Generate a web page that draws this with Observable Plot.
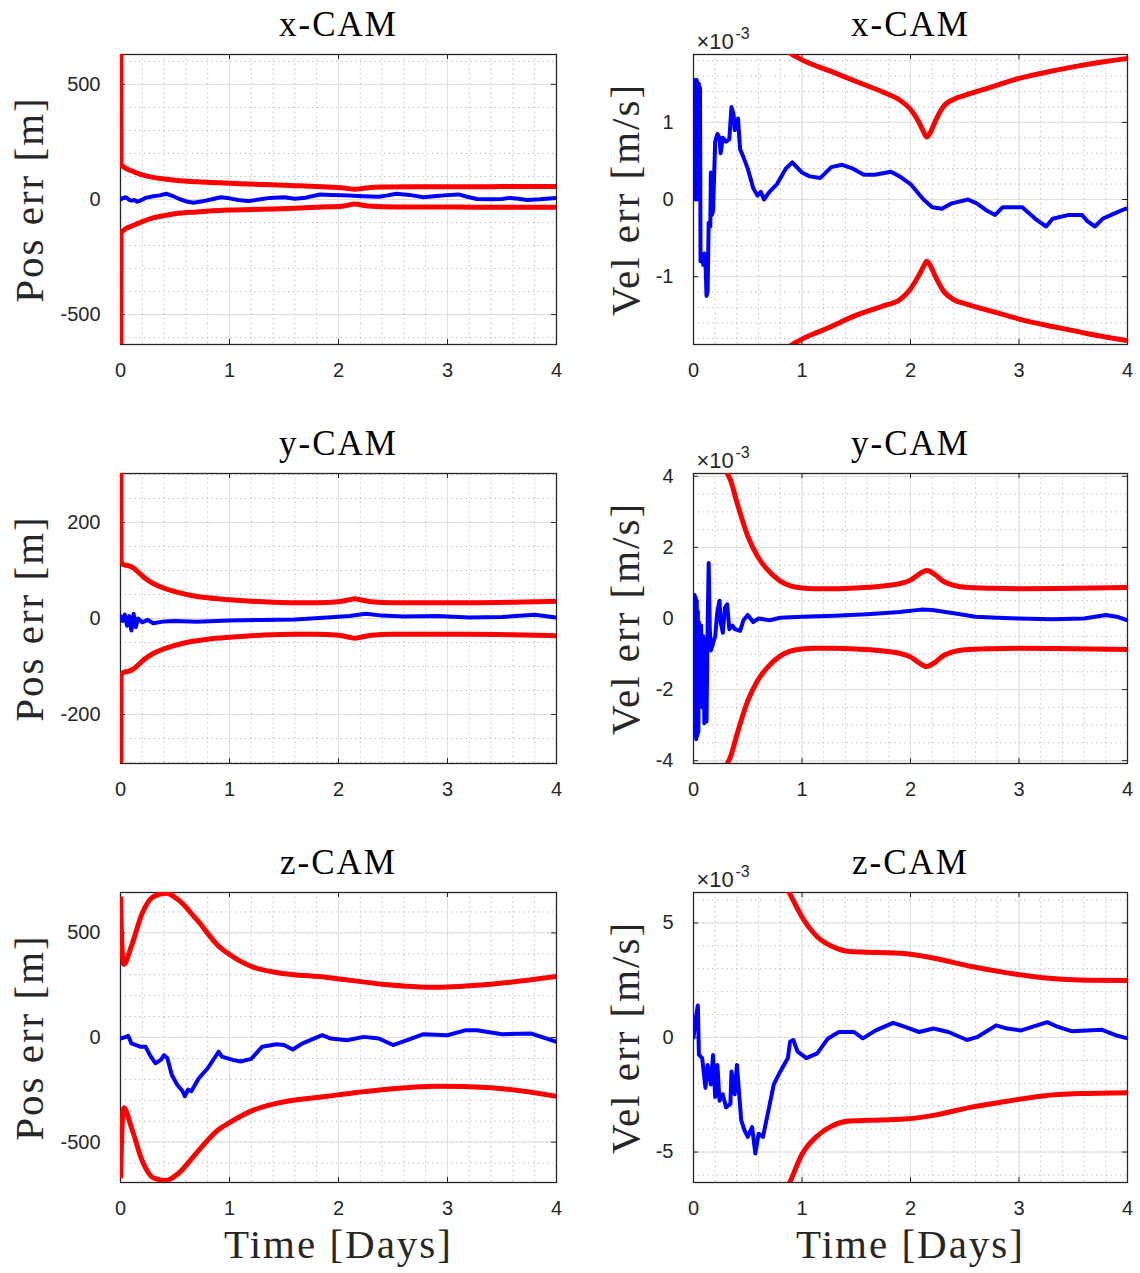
<!DOCTYPE html>
<html>
<head>
<meta charset="utf-8">
<script src="https://cdn.jsdelivr.net/npm/d3@7"></script>
<script src="https://cdn.jsdelivr.net/npm/@observablehq/plot@0.6"></script>
<style>
  html, body { margin: 0; padding: 0; background: #fff; }
  #wrap { position: relative; width: 1140px; height: 1273px; background: #fff; overflow: hidden; }
  #wrap svg { position: absolute; }
  svg g[font-family="Liberation Serif"] { letter-spacing: 2px; }
</style>
</head>
<body>
<div id="wrap"></div>
<script>
// ---------- shared ticks ----------
const xTicks = [0, 1, 2, 3, 4];

// ---------- Panel 1: x-CAM position error [m] ----------
const xPosSigT  = [0, 0.004, 0.02, 0.05, 0.1, 0.15, 0.2, 0.3, 0.4, 0.5, 0.7, 1.0, 1.3, 1.6, 1.9, 2.05, 2.15, 2.25, 2.4, 2.7, 3.0, 3.5, 4.0];
const xPosUpper = [2000, 155, 145, 135, 125, 115, 107, 96, 89, 84, 77, 71, 65, 60, 54, 50, 44, 50, 54, 55, 55, 56, 56];
const xPosLower = [-2000, -150, -138, -126, -116, -106, -96, -80, -70, -62, -54, -46, -42, -38, -32, -28, -20, -27, -31, -33, -33, -34, -34];
const xPosErrT  = [0, 0.02, 0.05, 0.08, 0.1, 0.13, 0.15, 0.19, 0.23, 0.3, 0.36, 0.42, 0.48, 0.55, 0.62, 0.67, 0.75, 0.83, 0.92, 1.0, 1.08, 1.17, 1.27, 1.37, 1.5, 1.6, 1.7, 1.83, 1.93, 2.03, 2.13, 2.23, 2.37, 2.45, 2.53, 2.65, 2.78, 2.9, 3.0, 3.1, 3.18, 3.27, 3.4, 3.5, 3.57, 3.65, 3.73, 3.85, 4.0];
const xPosErr   = [0, 6, 10, -2, -5, -2, -10, -3, 7, 14, 18, 25, 15, 0, -10, -14, -8, 0, 10, 5, -2, -7, 0, 7, 10, 3, 8, 22, 20, 19, 16, 14, 12, 18, 25, 20, 10, 15, 19, 22, 12, 2, 1, 2, 7, 3, -2, 1, 7];

// ---------- Panel 2: x-CAM velocity error [x1e-3 m/s] ----------
const xVelSigT  = [0, 0.3, 0.6, 0.89, 1.0, 1.25, 1.5, 1.75, 1.9, 2.0, 2.07, 2.12, 2.15, 2.18, 2.23, 2.3, 2.4, 2.5, 2.75, 3.0, 3.25, 3.5, 3.75, 4.0];
const xVelUpper = [6, 3.2, 2.35, 1.9, 1.81, 1.67, 1.53, 1.39, 1.29, 1.17, 1.02, 0.88, 0.81, 0.86, 1.02, 1.2, 1.3, 1.35, 1.46, 1.57, 1.65, 1.72, 1.78, 1.83];
const xVelLower = [-6, -3.2, -2.35, -1.9, -1.81, -1.66, -1.5, -1.38, -1.3, -1.16, -1.0, -0.87, -0.8, -0.85, -1.0, -1.18, -1.3, -1.35, -1.45, -1.55, -1.63, -1.7, -1.77, -1.83];
const xVelErrT  = [0, 0.01, 0.015, 0.02, 0.025, 0.03, 0.035, 0.04, 0.045, 0.05, 0.055, 0.06, 0.065, 0.08, 0.09, 0.1, 0.11, 0.12, 0.13, 0.14, 0.155, 0.16, 0.17, 0.18, 0.2, 0.22, 0.24, 0.25, 0.27, 0.3, 0.33, 0.35, 0.37, 0.38, 0.41, 0.43, 0.46, 0.5, 0.55, 0.59, 0.62, 0.65, 0.7, 0.77, 0.85, 0.91, 1.0, 1.07, 1.17, 1.27, 1.37, 1.47, 1.57, 1.67, 1.82, 1.9, 2.0, 2.12, 2.2, 2.29, 2.38, 2.53, 2.61, 2.71, 2.78, 2.85, 2.95, 3.03, 3.15, 3.25, 3.31, 3.46, 3.58, 3.63, 3.7, 3.77, 3.85, 3.98, 4.0];
const xVelErr   = [0, 1.55, 0, 1.55, 0.05, 1.55, 0, 1.5, 0.1, 1.5, 0.2, 1.45, -0.8, -0.75, -0.85, -0.7, -0.8, -1.25, -1.2, -0.3, -0.35, 0.35, -0.2, -0.15, 0.75, 0.85, 0.8, 0.6, 0.8, 0.75, 0.78, 1.2, 1.1, 0.9, 1.05, 0.65, 0.55, 0.4, 0.15, 0.05, 0.1, 0.0, 0.1, 0.2, 0.4, 0.48, 0.35, 0.3, 0.28, 0.42, 0.45, 0.4, 0.32, 0.32, 0.36, 0.3, 0.2, 0.0, -0.1, -0.12, -0.05, 0.0, -0.05, -0.15, -0.2, -0.1, -0.1, -0.1, -0.25, -0.35, -0.25, -0.2, -0.2, -0.28, -0.35, -0.25, -0.2, -0.12, -0.12];

// ---------- Panel 3: y-CAM position error [m] ----------
const yPosSigT  = [0, 0.004, 0.03, 0.07, 0.12, 0.17, 0.22, 0.3, 0.4, 0.5, 0.65, 0.8, 1.0, 1.2, 1.4, 1.6, 1.8, 2.0, 2.1, 2.15, 2.2, 2.3, 2.5, 2.8, 3.2, 3.6, 4.0];
const yPosUpper = [1500, 120, 112, 110, 105, 95, 85, 73, 63, 56, 48, 43, 39, 36, 34, 33, 33, 35, 39, 41, 39, 35, 33, 33, 33, 34, 36];
const yPosLower = [-1500, -120, -112, -110, -105, -95, -85, -73, -63, -56, -48, -43, -39, -36, -34, -33, -33, -35, -39, -41, -39, -35, -33, -33, -33, -34, -36];
const yPosErrT  = [0, 0.02, 0.04, 0.06, 0.08, 0.1, 0.12, 0.14, 0.16, 0.2, 0.25, 0.3, 0.4, 0.5, 0.7, 1.0, 1.3, 1.6, 1.9, 2.1, 2.25, 2.4, 2.6, 2.9, 3.2, 3.5, 3.8, 4.0];
const yPosErr   = [5, -5, 8, -15, 5, -25, 10, -18, 0, -8, -3, -10, -6, -5, -7, -4, -3, -2, 2, 5, 10, 6, 4, 5, 2, 3, 8, 2];

// ---------- Panel 4: y-CAM velocity error [x1e-3 m/s] ----------
const yVelSigT  = [0, 0.1, 0.2, 0.31, 0.34, 0.4, 0.5, 0.59, 0.68, 0.8, 0.9, 1.0, 1.11, 1.3, 1.5, 1.73, 1.9, 2.0, 2.08, 2.15, 2.22, 2.3, 2.4, 2.5, 2.75, 3.0, 3.5, 4.0];
const yVelUpper = [14, 9, 5.8, 4.1, 3.9, 3.27, 2.32, 1.75, 1.38, 1.05, 0.91, 0.86, 0.84, 0.84, 0.86, 0.91, 0.98, 1.08, 1.25, 1.35, 1.25, 1.05, 0.93, 0.88, 0.85, 0.84, 0.85, 0.87];
const yVelLower = [-14, -9, -5.8, -4.1, -3.9, -3.27, -2.32, -1.75, -1.38, -1.05, -0.91, -0.86, -0.84, -0.84, -0.86, -0.91, -0.98, -1.08, -1.25, -1.35, -1.25, -1.05, -0.93, -0.88, -0.85, -0.84, -0.85, -0.87];
const yVelErrT  = [0, 0.01, 0.015, 0.02, 0.025, 0.03, 0.035, 0.04, 0.045, 0.05, 0.06, 0.07, 0.08, 0.09, 0.1, 0.11, 0.12, 0.13, 0.14, 0.15, 0.16, 0.18, 0.2, 0.22, 0.24, 0.25, 0.27, 0.29, 0.31, 0.33, 0.36, 0.38, 0.43, 0.46, 0.5, 0.55, 0.6, 0.7, 0.8, 1.0, 1.3, 1.6, 1.9, 2.1, 2.2, 2.4, 2.6, 2.8, 3.0, 3.3, 3.6, 3.8, 3.9, 4.0];
const yVelErr   = [0, 0.66, -3.3, 0.6, -3.4, 0.5, -3.3, 0.2, -3.2, -0.1, -1.5, -0.2, -2.5, -0.5, -2.95, -0.6, -2.9, -0.3, 1.56, -0.3, -0.9, -0.7, -0.5, 0.2, 0.5, -0.1, -0.4, 0.3, 0.4, -0.3, -0.2, -0.3, -0.35, -0.05, 0.1, -0.1, 0.0, -0.05, 0.02, 0.05, 0.08, 0.12, 0.18, 0.25, 0.24, 0.15, 0.05, 0.02, 0.0, -0.02, 0.0, 0.1, 0.05, -0.05];

// ---------- Panel 5: z-CAM position error [m] ----------
const zPosSigT  = [0, 0.015, 0.03, 0.1, 0.2, 0.3, 0.42, 0.53, 0.7, 0.9, 1.0, 1.23, 1.43, 1.9, 2.4, 2.9, 3.4, 4.0];
const zPosUpper = [673, 420, 350, 437, 595, 673, 690, 658, 563, 437, 397, 334, 311, 287, 255, 240, 255, 292];
const zPosLower = [-673, -420, -336, -430, -590, -670, -683, -650, -550, -440, -407, -345, -315, -281, -250, -233, -240, -281];
const zPosErrT  = [0, 0.05, 0.07, 0.1, 0.18, 0.23, 0.27, 0.32, 0.37, 0.4, 0.43, 0.47, 0.52, 0.57, 0.59, 0.62, 0.65, 0.72, 0.8, 0.9, 0.93, 1.03, 1.1, 1.2, 1.3, 1.43, 1.5, 1.58, 1.67, 1.85, 1.93, 2.08, 2.23, 2.37, 2.5, 2.63, 2.78, 3.0, 3.17, 3.27, 3.5, 3.77, 4.0];
const zPosErr   = [-5, 3, 8, -28, -44, -44, -84, -123, -107, -84, -99, -178, -226, -257, -281, -249, -257, -194, -147, -68, -91, -107, -115, -102, -44, -32, -36, -57, -28, 11, -5, -13, 3, -5, -36, -13, 16, 11, 35, 35, 16, 19, -21];

// ---------- Panel 6: z-CAM velocity error [x1e-3 m/s] ----------
const zVelSigT  = [0, 0.5, 0.75, 0.89, 1.0, 1.14, 1.28, 1.44, 1.71, 1.98, 2.21, 2.55, 2.89, 3.22, 3.56, 4.0];
const zVelUpper = [20, 11, 7.6, 6.26, 5.26, 4.4, 3.97, 3.75, 3.71, 3.65, 3.47, 3.11, 2.82, 2.61, 2.51, 2.49];
const zVelLower = [-20, -11, -7.6, -6.3, -5.1, -4.3, -3.85, -3.65, -3.6, -3.55, -3.4, -3.05, -2.78, -2.55, -2.45, -2.41];
const zVelErrT  = [0, 0.02, 0.04, 0.05, 0.08, 0.11, 0.13, 0.16, 0.18, 0.2, 0.22, 0.24, 0.27, 0.3, 0.34, 0.35, 0.38, 0.4, 0.44, 0.47, 0.5, 0.54, 0.57, 0.6, 0.64, 0.69, 0.74, 0.8, 0.87, 0.89, 0.92, 0.96, 1.04, 1.14, 1.24, 1.34, 1.48, 1.56, 1.68, 1.84, 1.95, 2.08, 2.21, 2.35, 2.52, 2.62, 2.79, 2.89, 3.02, 3.26, 3.36, 3.49, 3.76, 3.89, 4.0];
const zVelErr   = [0, 0.8, 1.4, -0.75, -0.9, -2.2, -1.2, -2.05, -0.76, -2.6, -1.2, -2.76, -2.48, -3.05, -2.9, -1.48, -2.48, -1.2, -3.62, -4.05, -4.34, -3.91, -5.06, -4.2, -4.34, -3.2, -2.05, -1.48, -0.9, -0.19, -0.11, -0.62, -0.9, -0.69, -0.04, 0.24, 0.24, -0.04, 0.31, 0.64, 0.46, 0.24, 0.39, 0.24, -0.11, 0.03, 0.53, 0.39, 0.31, 0.67, 0.46, 0.27, 0.34, 0.1, -0.04];

// ---------- layout + styling ----------
const INK = "#262626";
const RED = "#ff0000";
const BLUE = "#0000ff";
const SANS = "Liberation Sans, Arial, Helvetica, sans-serif";
const SERIF = "Liberation Serif";

const zipRows = (t, v) => t.map((d, i) => ({t: d, v: v[i]}));

const panels = [
  {col: 0, row: 0, title: "x-CAM", ylabel: "Pos err [m]", sci: false,
   yDomain: [-630, 630], yTicks: [-500, 0, 500], yMinorStep: 100,
   sigT: xPosSigT, upper: xPosUpper, lower: xPosLower, errT: xPosErrT, err: xPosErr},
  {col: 1, row: 0, title: "x-CAM", ylabel: "Vel err [m/s]", sci: true,
   yDomain: [-1.88, 1.88], yTicks: [-1, 0, 1], yMinorStep: 0.2,
   sigT: xVelSigT, upper: xVelUpper, lower: xVelLower, errT: xVelErrT, err: xVelErr},
  {col: 0, row: 1, title: "y-CAM", ylabel: "Pos err [m]", sci: false,
   yDomain: [-302, 302], yTicks: [-200, 0, 200], yMinorStep: 50,
   sigT: yPosSigT, upper: yPosUpper, lower: yPosLower, errT: yPosErrT, err: yPosErr},
  {col: 1, row: 1, title: "y-CAM", ylabel: "Vel err [m/s]", sci: true,
   yDomain: [-4.08, 4.08], yTicks: [-4, -2, 0, 2, 4], yMinorStep: 0.5,
   sigT: yVelSigT, upper: yVelUpper, lower: yVelLower, errT: yVelErrT, err: yVelErr},
  {col: 0, row: 2, title: "z-CAM", ylabel: "Pos err [m]", sci: false,
   yDomain: [-693, 693], yTicks: [-500, 0, 500], yMinorStep: 100,
   sigT: zPosSigT, upper: zPosUpper, lower: zPosLower, errT: zPosErrT, err: zPosErr},
  {col: 1, row: 2, title: "z-CAM", ylabel: "Vel err [m/s]", sci: true,
   yDomain: [-6.33, 6.33], yTicks: [-5, 0, 5], yMinorStep: 1,
   sigT: zVelSigT, upper: zVelUpper, lower: zVelLower, errT: zVelErrT, err: zVelErr}
];

const wrap = document.getElementById("wrap");

function minorRange(lo, hi, step) {
  const out = [];
  const n0 = Math.ceil(lo / step - 1e-9), n1 = Math.floor(hi / step + 1e-9);
  for (let k = n0; k <= n1; k++) out.push(+(k * step).toFixed(6));
  return out;
}

for (const p of panels) {
  const left = p.col === 0 ? 0 : 570;
  const top = [0, 419, 838][p.row];
  const width = 570;
  const height = p.row === 2 ? 435 : 419;
  const marginTop = 54;
  const marginBottom = height - marginTop - 290;
  const marginLeft = p.col === 0 ? 120 : 123;
  const marginRight = p.col === 0 ? 14 : 13;
  const fw = width - marginLeft - marginRight;
  const fh = 290;

  const xMinor = minorRange(0, 4, 0.2);
  const yMinor = minorRange(p.yDomain[0], p.yDomain[1], p.yMinorStep);

  const marks = [
    // minor dotted grid
    Plot.ruleX(xMinor, {x: d => d, stroke: "#b4b4b4", strokeWidth: 1, strokeDasharray: "1.2,3.6"}),
    Plot.ruleY(yMinor, {y: d => d, stroke: "#b4b4b4", strokeWidth: 1, strokeDasharray: "1.2,3.6"}),
    // major solid grid
    Plot.ruleX(xTicks, {x: d => d, stroke: "#dedede", strokeWidth: 1}),
    Plot.ruleY(p.yTicks, {y: d => d, stroke: "#dedede", strokeWidth: 1}),
    // axes box
    Plot.frame({stroke: INK, strokeWidth: 1.3}),
    // inward tick marks on all sides
    Plot.tickX(xTicks, {x: d => d, stroke: INK, strokeWidth: 1, insetTop: fh - 5}),
    Plot.tickX(xTicks, {x: d => d, stroke: INK, strokeWidth: 1, insetBottom: fh - 5}),
    Plot.tickY(p.yTicks, {y: d => d, stroke: INK, strokeWidth: 1, insetRight: fw - 5}),
    Plot.tickY(p.yTicks, {y: d => d, stroke: INK, strokeWidth: 1, insetLeft: fw - 5}),
    // covariance bounds
    Plot.line(zipRows(p.sigT, p.upper), {x: "t", y: "v", curve: "monotone-x", stroke: RED, strokeWidth: 5, strokeLinejoin: "round", strokeLinecap: "butt", clip: true}),
    Plot.line(zipRows(p.sigT, p.lower), {x: "t", y: "v", curve: "monotone-x", stroke: RED, strokeWidth: 5, strokeLinejoin: "round", strokeLinecap: "butt", clip: true}),
    // estimation error
    Plot.line(zipRows(p.errT, p.err), {x: "t", y: "v", stroke: BLUE, strokeWidth: 4, strokeLinejoin: "round", clip: true}),
    // title
    Plot.text([p.title], {text: d => d, frameAnchor: "top", lineAnchor: "bottom", dy: -19,
      fontFamily: SERIF, fontSize: 35, fill: "#000"}),
    // y label
    Plot.text([p.ylabel], {text: d => d, frameAnchor: "left", rotate: -90, textAnchor: "middle", lineAnchor: "middle",
      dx: p.col === 0 ? -91 : -68, fontFamily: SERIF, fontSize: 41, fill: INK})
  ];
  if (p.row === 2) {
    marks.push(Plot.text(["Time [Days]"], {text: d => d, frameAnchor: "bottom", lineAnchor: "bottom", dy: 75,
      fontFamily: SERIF, fontSize: 41, fill: INK}));
  }
  if (p.sci) {
    marks.push(Plot.text(["\u00d710"], {text: d => d, frameAnchor: "top-left", textAnchor: "start", lineAnchor: "bottom",
      dx: 3, dy: -6, fontFamily: SANS, fontSize: 22, fill: INK}));
    marks.push(Plot.text(["-3"], {text: d => d, frameAnchor: "top-left", textAnchor: "start", lineAnchor: "bottom",
      dx: 42, dy: -16, fontFamily: SANS, fontSize: 16, fill: INK}));
  }

  const svg = Plot.plot({
    width, height, marginTop, marginBottom, marginLeft, marginRight,
    style: {background: "white", fontFamily: SANS, fontSize: "20px", color: INK, overflow: "visible"},
    x: {domain: [0, 4], ticks: xTicks, tickSize: 0, tickPadding: 18, label: null, tickFormat: d => String(d)},
    y: {domain: p.yDomain, ticks: p.yTicks, tickSize: 0, tickPadding: 20, label: null, tickFormat: d => String(d)},
    marks
  });
  svg.style.left = left + "px";
  svg.style.top = top + "px";
  wrap.appendChild(svg);
}
</script>
</body>
</html>
